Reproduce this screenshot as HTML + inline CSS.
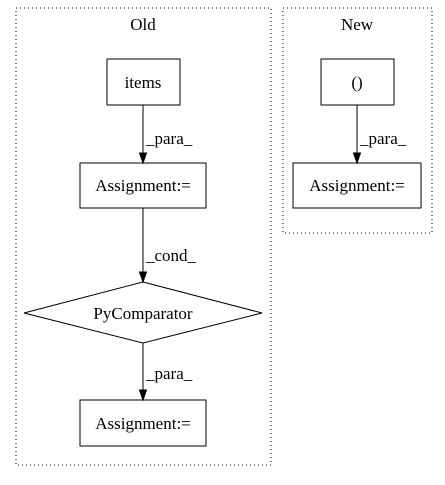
<!DOCTYPE html>
<html><head><style>body{margin:0;background:#fff}</style></head><body>
<svg width="445" height="480" viewBox="0 0 445 480" xmlns="http://www.w3.org/2000/svg" font-family="Liberation Serif, serif" font-size="17">
<rect x="16" y="8" width="255" height="457" fill="none" stroke="#000" stroke-dasharray="1,3"/>
<rect x="283" y="8" width="149" height="225" fill="none" stroke="#000" stroke-dasharray="1,3"/>
<text x="143" y="30" text-anchor="middle">Old</text>
<text x="357" y="30" text-anchor="middle">New</text>
<rect x="107" y="59" width="73" height="46" fill="none" stroke="#000"/>
<text x="143" y="88" text-anchor="middle">items</text>
<rect x="80" y="163" width="126" height="45" fill="none" stroke="#000"/>
<text x="143" y="191" text-anchor="middle">Assignment:=</text>
<polygon points="143,282 262,313 143,343 24,313" fill="none" stroke="#000"/>
<text x="143" y="319" text-anchor="middle">PyComparator</text>
<rect x="80" y="400" width="126" height="46" fill="none" stroke="#000"/>
<text x="143" y="429" text-anchor="middle">Assignment:=</text>
<rect x="321" y="59" width="73" height="46" fill="none" stroke="#000"/>
<text x="357" y="88" text-anchor="middle">()</text>
<rect x="293" y="163" width="128" height="45" fill="none" stroke="#000"/>
<text x="357" y="191" text-anchor="middle">Assignment:=</text>
<g stroke="#000" fill="#000">
<line x1="143" y1="105" x2="143" y2="153"/><polygon points="139.5,153 146.5,153 143,163"/>
<line x1="143" y1="208" x2="143" y2="272"/><polygon points="139.5,272 146.5,272 143,282"/>
<line x1="143" y1="343" x2="143" y2="390"/><polygon points="139.5,390 146.5,390 143,400"/>
<line x1="357" y1="105" x2="357" y2="153"/><polygon points="353.5,153 360.5,153 357,163"/>
</g>
<text x="146" y="144">_para_</text>
<text x="146" y="261">_cond_</text>
<text x="146" y="379">_para_</text>
<text x="360" y="144">_para_</text>
</svg>
</body></html>
